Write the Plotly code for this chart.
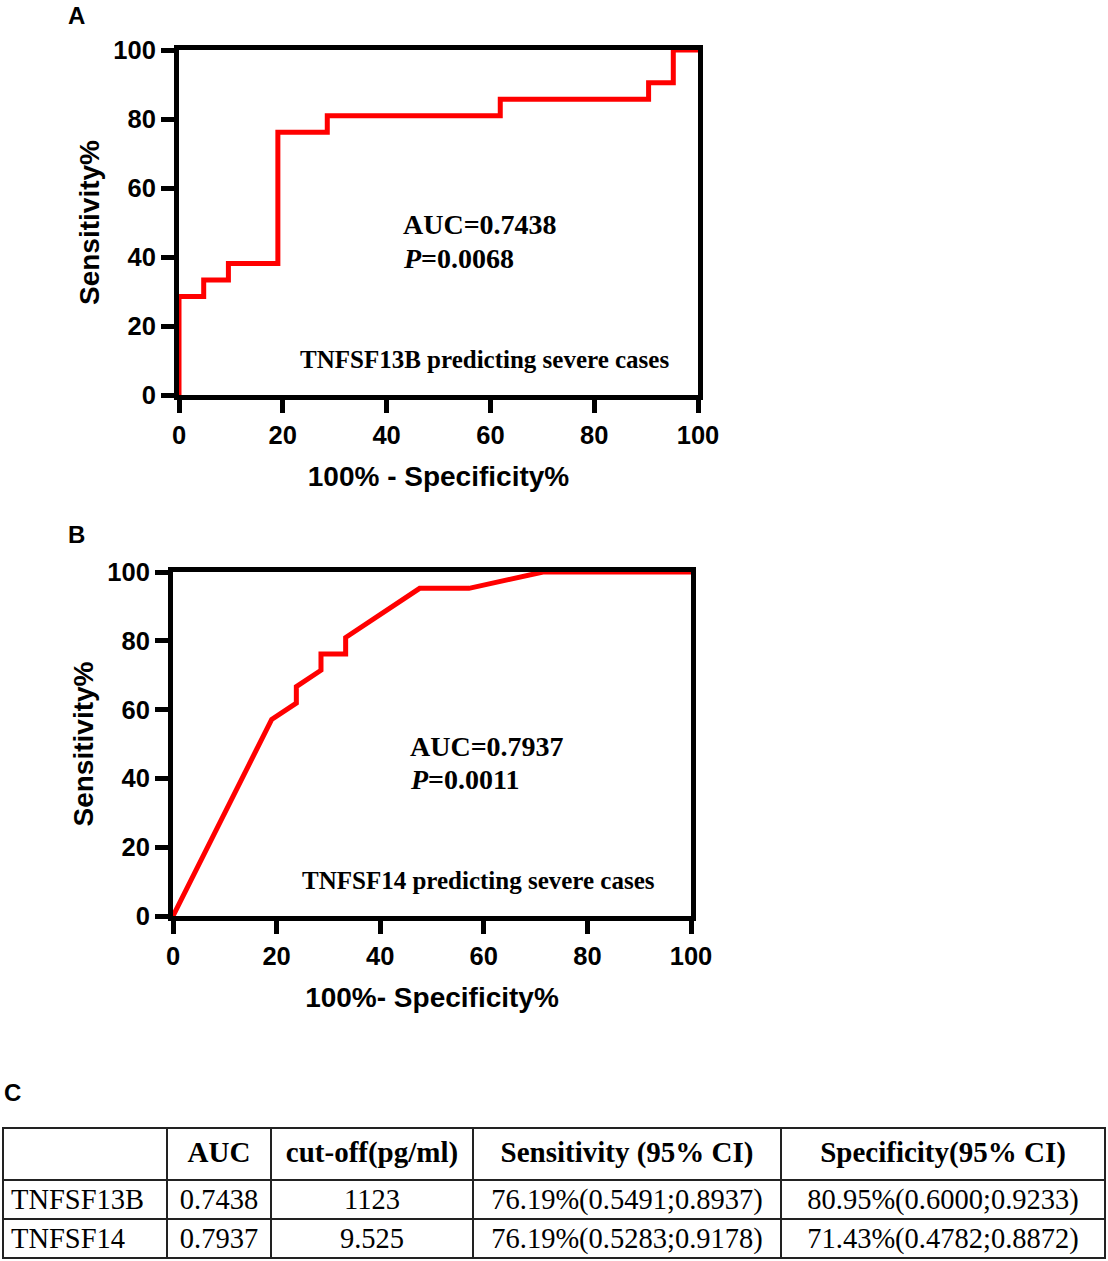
import plotly.graph_objects as go

# ROC curve A: TNFSF13B
roc_a_fpr = [0, 0, 4.76, 4.76, 9.52, 9.52, 19.05, 19.05, 28.57, 28.57, 61.9, 61.9, 90.48, 90.48, 95.24, 95.24, 100]
roc_a_sens = [0, 28.57, 28.57, 33.33, 33.33, 38.1, 38.1, 76.19, 76.19, 80.95, 80.95, 85.71, 85.71, 90.48, 90.48, 100, 100]

# ROC curve B: TNFSF14
roc_b_fpr = [0, 19.05, 23.81, 23.81, 28.57, 28.57, 33.33, 33.33, 47.62, 57.14, 71.43, 100]
roc_b_sens = [0, 57.14, 61.9, 66.67, 71.43, 76.19, 76.19, 80.95, 95.24, 95.24, 100, 100]

auc_a, p_a = "0.7438", "0.0068"
auc_b, p_b = "0.7937", "0.0011"

ticks = [0, 20, 40, 60, 80, 100]

table_header = ["", "AUC", "cut-off(pg/ml)", "Sensitivity (95% CI)", "Specificity(95% CI)"]
table_marker = ["TNFSF13B", "TNFSF14"]
table_auc = ["0.7438", "0.7937"]
table_cutoff = ["1123", "9.525"]
table_sens = ["76.19%(0.5491;0.8937)", "76.19%(0.5283;0.9178)"]
table_spec = ["80.95%(0.6000;0.9233)", "71.43%(0.4782;0.8872)"]

W, H = 1108, 1261
SANS = "Liberation Sans"
SERIF = "Liberation Serif"
RED = "#FF0000"


def px_x(p):
    return p / W


def px_y(p):
    return 1 - p / H


def axis_style(domain, **kw):
    d = dict(
        domain=domain,
        range=[0, 100],
        tickvals=ticks,
        showline=True,
        mirror=True,
        linecolor="black",
        linewidth=5,
        ticks="outside",
        ticklen=13,
        tickwidth=4.5,
        tickcolor="black",
        showgrid=False,
        zeroline=False,
        fixedrange=True,
        automargin=False,
        tickfont=dict(family=SANS, size=25.5, color="black", weight="bold"),
    )
    d.update(kw)
    return d


fig = go.Figure()

fig.add_trace(go.Scatter(x=roc_a_fpr, y=roc_a_sens, mode="lines",
                         line=dict(color=RED, width=5), xaxis="x", yaxis="y",
                         showlegend=False, hoverinfo="skip"))
fig.add_trace(go.Scatter(x=roc_b_fpr, y=roc_b_sens, mode="lines",
                         line=dict(color=RED, width=5), xaxis="x2", yaxis="y2",
                         showlegend=False, hoverinfo="skip"))

fig.add_trace(go.Table(
    domain=dict(x=[px_x(3), px_x(1105)], y=[px_y(1261), px_y(1128)]),
    columnwidth=[164, 104, 202, 308, 324],
    header=dict(
        values=[f"<b>{h}</b>" if h else "" for h in table_header],
        height=52,
        align="center",
        line=dict(color="#222222", width=2),
        fill=dict(color="white"),
        font=dict(family=SERIF, size=29, color="black"),
    ),
    cells=dict(
        values=[table_marker, table_auc, table_cutoff, table_sens, table_spec],
        height=39,
        align=["left", "center", "center", "center", "center"],
        line=dict(color="#222222", width=2),
        fill=dict(color="white"),
        font=dict(family=SERIF, size=28.5, color="black"),
    ),
))

title_font = dict(family=SANS, size=28, color="black", weight="bold")

fig.update_layout(
    width=W,
    height=H,
    margin=dict(l=0, r=0, t=0, b=0, autoexpand=False),
    paper_bgcolor="white",
    plot_bgcolor="white",
    showlegend=False,
    xaxis=axis_style([px_x(179), px_x(698)], anchor="y",
                     title=dict(text="100% - Specificity%", font=title_font, standoff=20)),
    yaxis=axis_style([px_y(395), px_y(50)], anchor="x",
                     title=dict(text="Sensitivity%", font=title_font, standoff=7)),
    xaxis2=axis_style([px_x(173), px_x(691)], anchor="y2",
                      title=dict(text="100%- Specificity%", font=title_font, standoff=20)),
    yaxis2=axis_style([px_y(916), px_y(572)], anchor="x2",
                      title=dict(text="Sensitivity%", font=title_font, standoff=7)),
)

stat_font = dict(family=SERIF, size=28, color="black", weight="bold")
note_font = dict(family=SERIF, size=25, color="black", weight="bold")

annotations = [
    dict(x=42.8, y=49.3, xref="x", yref="y", text=f"AUC={auc_a}", font=stat_font),
    dict(x=42.8, y=39.7, xref="x", yref="y", text=f"<i>P</i>={p_a}", font=stat_font),
    dict(x=45.4, y=49.4, xref="x2", yref="y2", text=f"AUC={auc_b}", font=stat_font),
    dict(x=45.4, y=39.8, xref="x2", yref="y2", text=f"<i>P</i>={p_b}", font=stat_font),
]
for a in annotations:
    a.update(xanchor="left", yanchor="middle", showarrow=False)
    fig.add_annotation(**a)

fig.add_annotation(x=58.9, y=10.4, xref="x", yref="y", text="TNFSF13B predicting severe cases",
                   font=note_font, showarrow=False, xanchor="center", yanchor="middle")
fig.add_annotation(x=58.9, y=10.2, xref="x2", yref="y2", text="TNFSF14 predicting severe cases",
                   font=note_font, showarrow=False, xanchor="center", yanchor="middle")

label_font = dict(family=SANS, size=24, color="black", weight="bold")
for txt, lx, ly in [("A", 76, 16), ("B", 76, 534), ("C", 12, 1092)]:
    fig.add_annotation(x=px_x(lx), y=px_y(ly), xref="paper", yref="paper", text=txt,
                       font=label_font, showarrow=False, xanchor="center", yanchor="middle")

# drop the default page margin so the figure sits at the window's top-left corner
fig.write_html("out.html", config={"displayModeBar": False},
               post_script="document.body.style.margin='0';document.body.style.overflow='hidden';")
